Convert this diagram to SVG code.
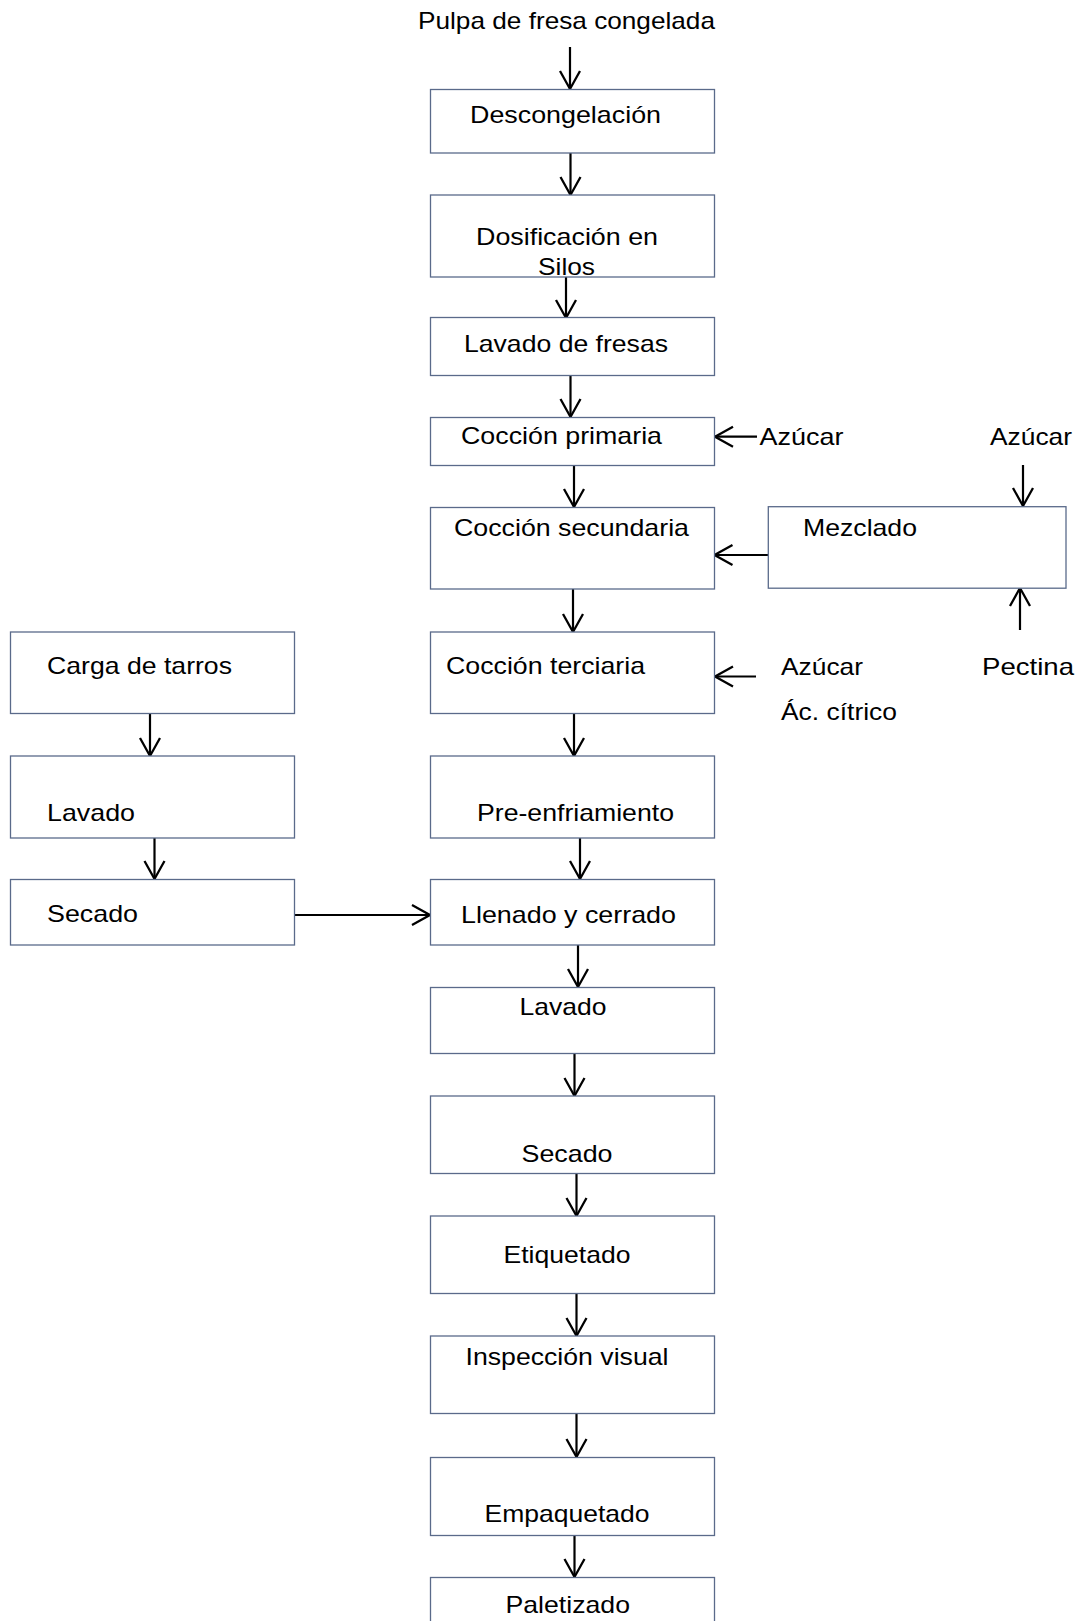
<svg xmlns="http://www.w3.org/2000/svg" width="1082" height="1621" viewBox="0 0 1082 1621">
<style>
.box{fill:#ffffff;stroke:#5a6a8a;stroke-width:1.3}
.t{font-family:"Liberation Sans",Arial,sans-serif;font-size:24px;fill:#000000}
.c{stroke:#000000;stroke-width:2.2;fill:none;marker-end:url(#ah)}
</style>
<defs>
<marker id="ah" markerUnits="userSpaceOnUse" markerWidth="22" markerHeight="24" refX="19" refY="11" orient="auto" overflow="visible">
<path d="M1,1 L19,11 L1,21" fill="none" stroke="#000000" stroke-width="2.3" stroke-linejoin="miter"/>
</marker>
</defs>
<rect width="1082" height="1621" fill="#ffffff"/>

<g id="connectors">
<line class="c" x1="570" y1="47" x2="570" y2="89"/>
<line class="c" x1="570.5" y1="153" x2="570.5" y2="195"/>
<line class="c" x1="566" y1="277" x2="566" y2="318"/>
<line class="c" x1="570.5" y1="375" x2="570.5" y2="417"/>
<line class="c" x1="574" y1="465" x2="574" y2="507"/>
<line class="c" x1="573" y1="589" x2="573" y2="632"/>
<line class="c" x1="574" y1="714" x2="574" y2="756"/>
<line class="c" x1="580" y1="838" x2="580" y2="879"/>
<line class="c" x1="578" y1="945" x2="578" y2="987"/>
<line class="c" x1="574.5" y1="1053" x2="574.5" y2="1096"/>
<line class="c" x1="576.5" y1="1173" x2="576.5" y2="1216"/>
<line class="c" x1="576.5" y1="1293" x2="576.5" y2="1336"/>
<line class="c" x1="576.5" y1="1413" x2="576.5" y2="1457"/>
<line class="c" x1="574.5" y1="1536" x2="574.5" y2="1577"/>
<line class="c" x1="150" y1="714" x2="150" y2="756"/>
<line class="c" x1="154.5" y1="838" x2="154.5" y2="879"/>
<line class="c" x1="294.5" y1="915" x2="430" y2="915"/>
<line class="c" x1="757" y1="436.7" x2="715" y2="436.7"/>
<line class="c" x1="768" y1="555" x2="714.5" y2="555"/>
<line class="c" x1="756" y1="676.5" x2="715" y2="676.5"/>
<line class="c" x1="1023" y1="465" x2="1023" y2="506"/>
<line class="c" x1="1020" y1="630" x2="1020" y2="588"/>
</g>

<text class="t" x="418" y="29" textLength="297" lengthAdjust="spacingAndGlyphs">Pulpa de fresa congelada</text>

<g id="descongelacion">
<rect class="box" x="430.5" y="89.5" width="284" height="63.5"/>
<text class="t" x="470" y="123" textLength="191" lengthAdjust="spacingAndGlyphs">Descongelación</text>
</g>
<g id="dosificacion">
<rect class="box" x="430.5" y="195" width="284" height="82"/>
<text class="t" x="476" y="245" textLength="182" lengthAdjust="spacingAndGlyphs">Dosificación en</text>
<text class="t" x="538" y="275" textLength="57" lengthAdjust="spacingAndGlyphs">Silos</text>
</g>
<g id="lavado-fresas">
<rect class="box" x="430.5" y="317.5" width="284" height="58"/>
<text class="t" x="464" y="352" textLength="204" lengthAdjust="spacingAndGlyphs">Lavado de fresas</text>
</g>
<g id="coccion-primaria">
<rect class="box" x="430.5" y="417.5" width="284" height="48"/>
<text class="t" x="461" y="444" textLength="201" lengthAdjust="spacingAndGlyphs">Cocción primaria</text>
</g>
<g id="azucar-1">
<text class="t" x="759.5" y="445" textLength="84" lengthAdjust="spacingAndGlyphs">Azúcar</text>
</g>
<g id="azucar-2">
<text class="t" x="990" y="445" textLength="82" lengthAdjust="spacingAndGlyphs">Azúcar</text>
</g>
<g id="coccion-secundaria">
<rect class="box" x="430.5" y="507.5" width="284" height="81.5"/>
<text class="t" x="454" y="536" textLength="235" lengthAdjust="spacingAndGlyphs">Cocción secundaria</text>
</g>
<g id="mezclado">
<rect class="box" x="768.3" y="506.7" width="297.7" height="81.5"/>
<text class="t" x="803" y="536" textLength="114" lengthAdjust="spacingAndGlyphs">Mezclado</text>
</g>
<g id="coccion-terciaria">
<rect class="box" x="430.5" y="632" width="284" height="81.5"/>
<text class="t" x="446" y="674" textLength="199" lengthAdjust="spacingAndGlyphs">Cocción terciaria</text>
</g>
<g id="azucar-acido">
<text class="t" x="781" y="675" textLength="82" lengthAdjust="spacingAndGlyphs">Azúcar</text>
<text class="t" x="781" y="720" textLength="116" lengthAdjust="spacingAndGlyphs">Ác. cítrico</text>
</g>
<g id="pectina">
<text class="t" x="982" y="675" textLength="92" lengthAdjust="spacingAndGlyphs">Pectina</text>
</g>
<g id="carga-tarros">
<rect class="box" x="10.5" y="632" width="284" height="81.5"/>
<text class="t" x="47" y="674" textLength="185" lengthAdjust="spacingAndGlyphs">Carga de tarros</text>
</g>
<g id="lavado-tarros">
<rect class="box" x="10.5" y="756" width="284" height="82"/>
<text class="t" x="47" y="821" textLength="88" lengthAdjust="spacingAndGlyphs">Lavado</text>
</g>
<g id="secado-tarros">
<rect class="box" x="10.5" y="879.5" width="284" height="65.5"/>
<text class="t" x="47" y="922" textLength="91" lengthAdjust="spacingAndGlyphs">Secado</text>
</g>
<g id="pre-enfriamiento">
<rect class="box" x="430.5" y="756" width="284" height="82"/>
<text class="t" x="477" y="821" textLength="197" lengthAdjust="spacingAndGlyphs">Pre-enfriamiento</text>
</g>
<g id="llenado">
<rect class="box" x="430.5" y="879.5" width="284" height="65.5"/>
<text class="t" x="461" y="922.7" textLength="215" lengthAdjust="spacingAndGlyphs">Llenado y cerrado</text>
</g>
<g id="lavado">
<rect class="box" x="430.5" y="987.5" width="284" height="66"/>
<text class="t" x="519.5" y="1015" textLength="87" lengthAdjust="spacingAndGlyphs">Lavado</text>
</g>
<g id="secado">
<rect class="box" x="430.5" y="1096" width="284" height="77.5"/>
<text class="t" x="521.5" y="1162" textLength="91" lengthAdjust="spacingAndGlyphs">Secado</text>
</g>
<g id="etiquetado">
<rect class="box" x="430.5" y="1216" width="284" height="77.5"/>
<text class="t" x="503.5" y="1263" textLength="127" lengthAdjust="spacingAndGlyphs">Etiquetado</text>
</g>
<g id="inspeccion">
<rect class="box" x="430.5" y="1336" width="284" height="77.5"/>
<text class="t" x="465.5" y="1365" textLength="203" lengthAdjust="spacingAndGlyphs">Inspección visual</text>
</g>
<g id="empaquetado">
<rect class="box" x="430.5" y="1457.5" width="284" height="78"/>
<text class="t" x="484.5" y="1521.7" textLength="165" lengthAdjust="spacingAndGlyphs">Empaquetado</text>
</g>
<g id="paletizado">
<rect class="box" x="430.5" y="1577.5" width="284" height="70"/>
<text class="t" x="505.5" y="1613.3" textLength="124.5" lengthAdjust="spacingAndGlyphs">Paletizado</text>
</g>
</svg>
